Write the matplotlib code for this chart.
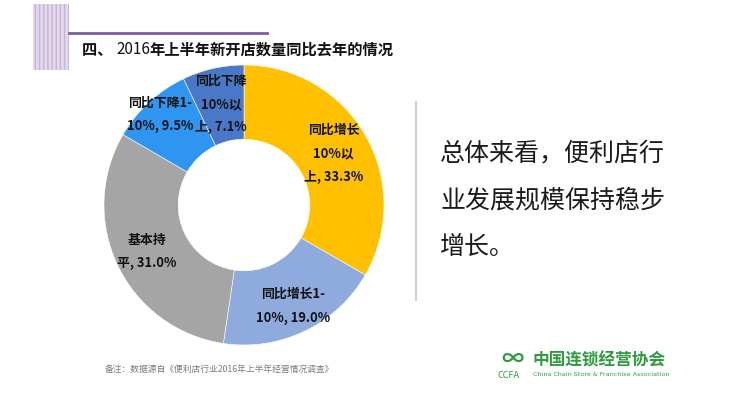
import matplotlib
matplotlib.use('Agg')
import matplotlib.pyplot as plt
import numpy as np
from matplotlib.patches import Rectangle

plt.rcParams['font.family'] = ['Noto Sans CJK SC', 'DejaVu Sans']

# Dados do gráfico
categorias = ['同比增长10%以上', '同比增长1-10%', '基本持平', '同比下降1-10%', '同比下降10%以上']
valores = [33.3, 19.0, 31.0, 9.5, 7.1]
rotulos = ['同比增长\n10%以\n上, 33.3%',
           '同比增长1-\n10%, 19.0%',
           '基本持\n平, 31.0%',
           '同比下降1-\n10%, 9.5%',
           '同比下降\n10%以\n上, 7.1%']
cores = ['#FFC000', '#8FAADC', '#A5A5A5', '#2E95F0', '#4A78C8']
raio_rotulo = [0.74, 0.80, 0.77, 0.88, 0.74]

titulo = ['四、 ', '2016', '年上半年新开店数量同比去年的情况']
resumo = ['总体来看，便利店行', '业发展规模保持稳步', '增长。']
nota = '备注：数据源自《便利店行业2016年上半年经营情况调查》'

W, H = 730, 398
fig = plt.figure(figsize=(W / 100, H / 100), dpi=100)

# Camada de fundo em coordenadas de pixel
bg = fig.add_axes([0, 0, 1, 1])
bg.set_xlim(0, W)
bg.set_ylim(H, 0)
bg.axis('off')

# Retângulo decorativo e linha roxa
bg.add_patch(Rectangle((33, 4), 36, 66, facecolor='#e3d8ec', edgecolor='#c7b3d8',
                       hatch='||||', linewidth=0))
bg.plot([69, 267], [33, 33], color='#7a5ea0', lw=2)

# Título em três partes (o ano não está em negrito)
t1 = bg.text(82, 50, titulo[0], fontsize=11, fontweight='bold', va='center', ha='left', color='#111111')
t2 = bg.annotate(titulo[1], xy=(1, 0), xycoords=t1, va='bottom', ha='left',
                 fontsize=11, color='#111111')
bg.annotate(titulo[2], xy=(1, 0), xycoords=t2, va='bottom', ha='left',
            fontsize=11, fontweight='bold', color='#111111')

# Linha vertical e texto à direita
bg.plot([416, 416], [102, 300], color='#d0d0d0', lw=1.5)
for i, linha in enumerate(resumo):
    bg.text(440, 153 + i * 47, linha, fontsize=18, va='center', ha='left', color='#1a1a1a')

# Nota de rodapé
bg.text(105, 370, nota, fontsize=6.3, va='center', ha='left', color='#7a7a7a')

# Logo
verde = '#2e9b3e'
bg.text(512, 359, '∞', fontsize=16, fontweight='bold', va='center', ha='center', color=verde)
bg.text(533, 360, '中国连锁经营协会', fontsize=12, fontweight='bold', va='center', ha='left', color=verde)
bg.text(498, 375, 'CCFA', fontsize=6.5, va='center', ha='left', color=verde)
bg.text(533, 375, 'China Chain Store & Franchise Association', fontsize=4.6, va='center',
        ha='left', color=verde, family='DejaVu Sans')

# Gráfico de rosca
cx, cy, r = 244, 205, 140
ax = fig.add_axes([(cx - r) / W, (H - cy - r) / H, 2 * r / W, 2 * r / H])
wedges, _ = ax.pie(valores, colors=cores, startangle=90, counterclock=False,
                   wedgeprops=dict(width=0.53, edgecolor='white', linewidth=0.4))
for w, txt, rr in zip(wedges, rotulos, raio_rotulo):
    ang = np.deg2rad((w.theta1 + w.theta2) / 2)
    ax.text(rr * np.cos(ang), rr * np.sin(ang), txt, ha='center', va='center',
            fontsize=9.3, fontweight='bold', color='#111111', linespacing=1.85)
ax.set_xlim(-1, 1)
ax.set_ylim(-1, 1)
ax.set_aspect('equal')
ax.axis('off')

fig.savefig('out.png', dpi=100)
